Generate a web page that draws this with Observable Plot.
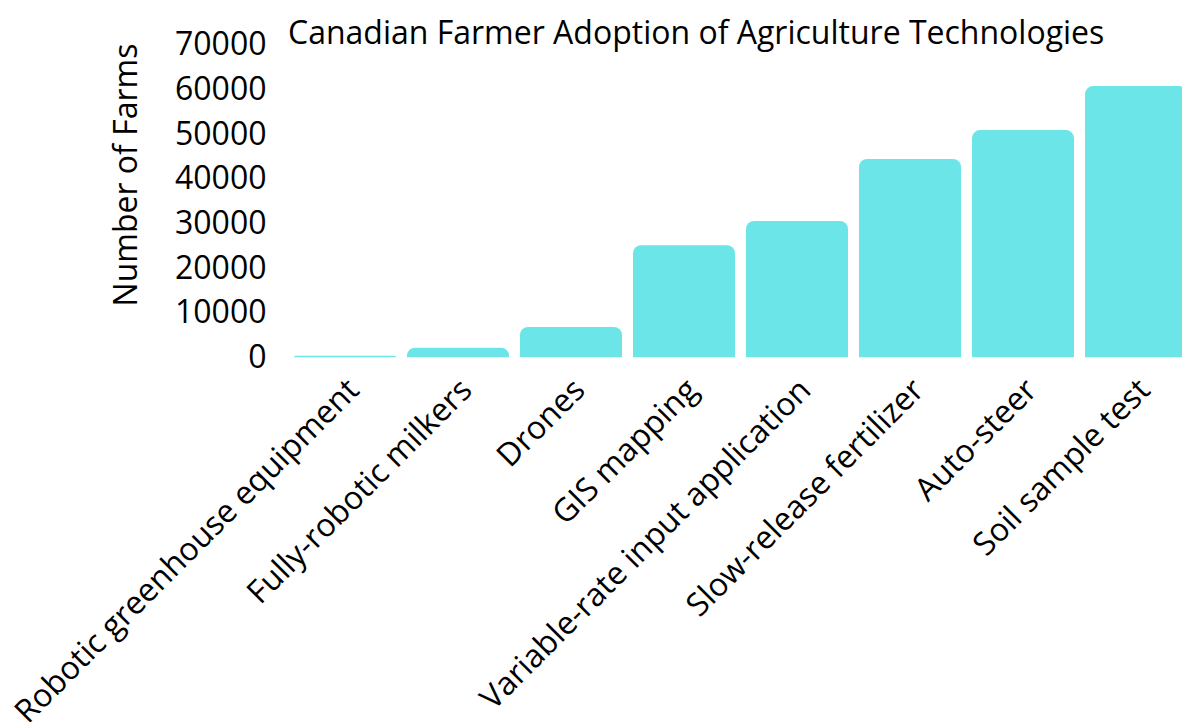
<!DOCTYPE html>
<html>
<head>
<meta charset="utf-8">
<script src="https://cdn.jsdelivr.net/npm/d3@7"></script>
<script src="https://cdn.jsdelivr.net/npm/@observablehq/plot@0.6"></script>
<style>
  html, body { margin: 0; padding: 0; background: #fff; overflow: hidden; }
  #wrap { position: relative; width: 1182px; height: 722px; overflow: hidden; font-family: "Open Sans", sans-serif; }
  #title { position: absolute; left: 288px; top: 16px; font-size: 32px; color: #000; white-space: nowrap; line-height: 1; }
  #ylabel { position: absolute; left: 125px; top: 175px; font-size: 32px; color: #000; white-space: nowrap; line-height: 1;
            transform: translate(-50%, -50%) rotate(-90deg); }
  #chart { position: absolute; left: 0; top: 0; width: 1200px; }
  #chart svg { max-width: none !important; width: 1200px; height: 722px; }
</style>
</head>
<body>
<div id="wrap">
  <div id="chart"></div>
  <div id="title">Canadian Farmer Adoption of Agriculture Technologies</div>
  <div id="ylabel">Number of Farms</div>
</div>
<script>
const technologies = [
  "Robotic greenhouse equipment",
  "Fully-robotic milkers",
  "Drones",
  "GIS mapping",
  "Variable-rate input application",
  "Slow-release fertilizer",
  "Auto-steer",
  "Soil sample test"
];
const farms = [340, 2150, 6780, 25100, 30500, 44400, 50850, 60700];
const yTicks = [0, 10000, 20000, 30000, 40000, 50000, 60000, 70000];

const data = technologies.map((t, i) => ({technology: t, farms: farms[i]}));

const chart = Plot.plot({
  width: 1200,
  height: 722,
  marginLeft: 281,
  marginRight: 0,
  marginTop: 44.5,
  marginBottom: 364.7,
  style: {fontFamily: "Open Sans", fontSize: "32px", color: "#000", overflow: "visible", maxWidth: "none"},
  x: {domain: technologies, padding: 0.1, label: null},
  y: {domain: [0, 70000], label: null},
  marks: [
    Plot.barY(data, {x: "technology", y: "farms", fill: "#6be5e8", rx1y1: 8, rx2y1: 8}),
    Plot.axisY({ticks: yTicks, tickSize: 0, tickPadding: 15, tickFormat: d => String(d), fontSize: 32, label: null}),
    Plot.axisX({tickSize: 0, tickPadding: 8, tickRotate: -45, fontSize: 32, label: null, dx: 8, dy: 19})
  ]
});
document.getElementById("chart").appendChild(chart);
</script>
</body>
</html>
